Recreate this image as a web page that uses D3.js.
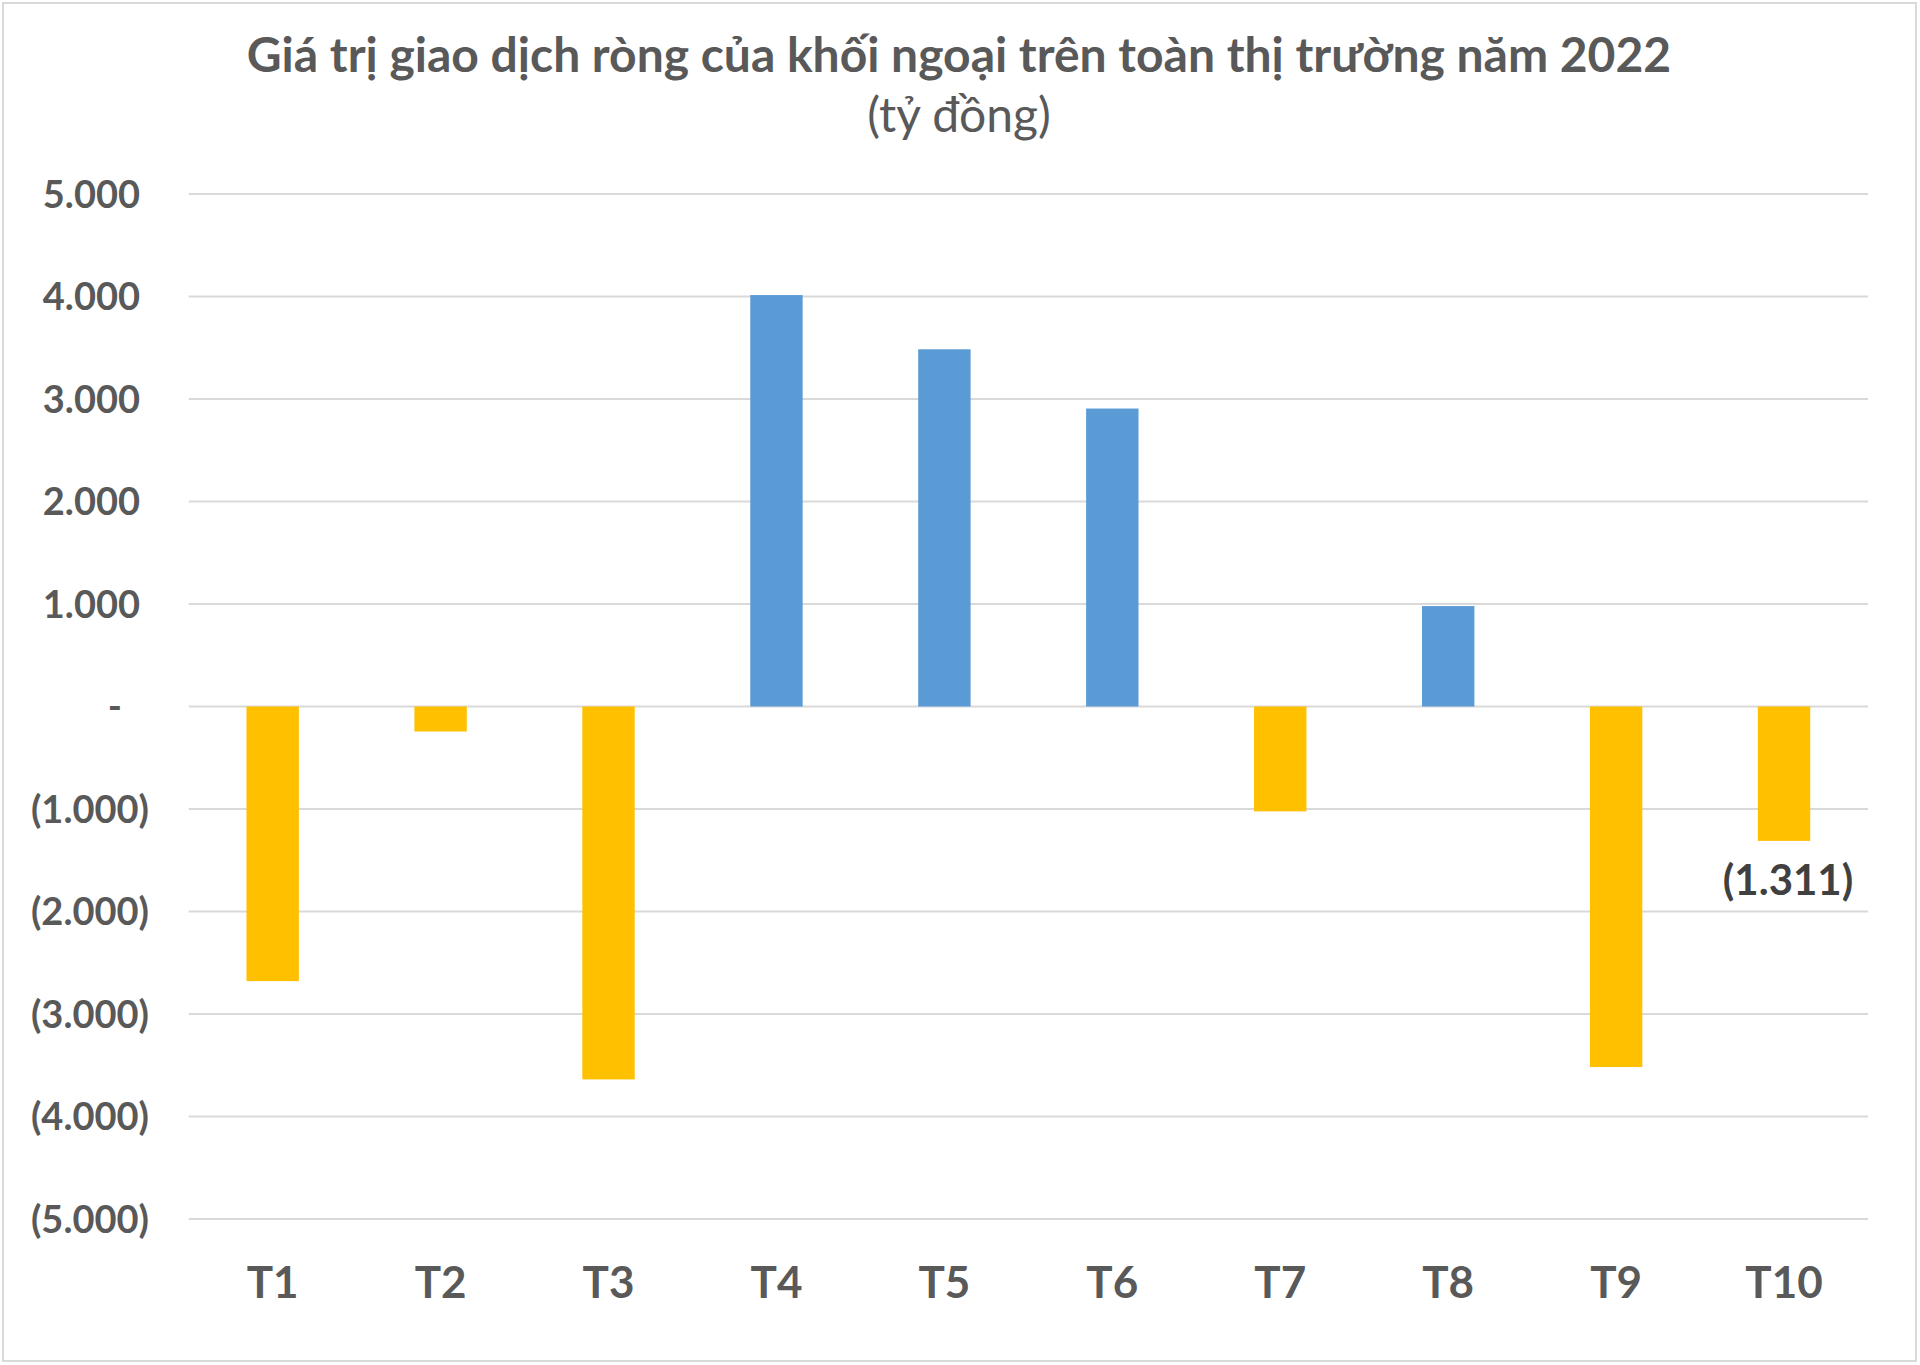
<!DOCTYPE html>
<html>
<head>
	<meta charset="utf-8" />
	<title>Giá trị giao dịch ròng của khối ngoại</title>
	<script src="https://cdn.jsdelivr.net/npm/d3@7"></script>
	<style>
		body { margin: 0; background: #fff; }
		svg text { font-family: Lato, "Open Sans", sans-serif; }
	</style>
</head>
<body>
	<div id="chart"></div>
	<script type="text/javascript">
		// so lieu (ty dong)
		var months = ["T1", "T2", "T3", "T4", "T5", "T6", "T7", "T8", "T9", "T10"];
		var netValues = [-2679, -244, -3638, 4014, 3485, 2907, -1023, 980, -3517, -1311];
		var yTicks = [5000, 4000, 3000, 2000, 1000, 0, -1000, -2000, -3000, -4000, -5000];
		var labelled = ["T10"];
		var titleText = "Giá trị giao dịch ròng của khối ngoại trên toàn thị trường năm 2022";
		var subText = "(tỷ đồng)";

		(function() {
			var width = 1920, height = 1365;
			var plotLeft = 188.7, plotRight = 1868, plotTop = 194, plotBottom = 1219;
			var textColor = "#595959";

			var vn = d3.formatLocale({ decimal: ",", thousands: ".", grouping: [3], currency: ["", ""] });
			var fmt = vn.format(",.0f");
			function acc(v) {
				if (v == 0) return "-";
				return v < 0 ? "(" + fmt(-v) + ")" : fmt(v);
			}

			var svg = d3.select("#chart").append("svg")
				.attr("width", width)
				.attr("height", height);

			svg.append("rect")
				.attr("x", 3).attr("y", 3)
				.attr("width", 1913).attr("height", 1358)
				.attr("fill", "#fff")
				.attr("stroke", "#d9d9d9")
				.attr("stroke-width", 2);

			var x = d3.scaleBand()
				.domain(months)
				.range([plotLeft, plotRight])
				.paddingInner(0.688)
				.paddingOuter(0.344);

			var y = d3.scaleLinear()
				.domain([-5000, 5000])
				.range([plotBottom, plotTop]);

			// luoi ngang
			svg.append("g").selectAll("line")
				.data(yTicks)
				.enter().append("line")
				.attr("x1", plotLeft).attr("x2", plotRight)
				.attr("y1", function(d) { return y(d); })
				.attr("y2", function(d) { return y(d); })
				.attr("stroke", "#d9d9d9")
				.attr("stroke-width", 2);

			// nhan truc y
			svg.append("g").selectAll("text")
				.data(yTicks)
				.enter().append("text")
				.attr("x", function(d) { return d < 0 ? 149 : (d == 0 ? 122 : 140); })
				.attr("y", function(d) { return y(d); })
				.attr("dy", "0.36em")
				.attr("text-anchor", "end")
				.attr("font-size", 38)
				.attr("font-weight", "bold")
				.attr("fill", textColor)
				.text(acc);

			// cot
			svg.append("g").selectAll("rect")
				.data(months)
				.enter().append("rect")
				.attr("x", function(d) { return x(d); })
				.attr("width", x.bandwidth())
				.attr("y", function(d, i) { return y(Math.max(0, netValues[i])); })
				.attr("height", function(d, i) { return Math.abs(y(netValues[i]) - y(0)); })
				.attr("fill", function(d, i) { return netValues[i] < 0 ? "#FFC000" : "#5B9BD5"; });

			// nhan truc x
			svg.append("g").selectAll("text")
				.data(months)
				.enter().append("text")
				.attr("x", function(d) { return x(d) + x.bandwidth() / 2; })
				.attr("y", 1298)
				.attr("text-anchor", "middle")
				.attr("font-size", 44)
				.attr("font-weight", "bold")
				.attr("fill", textColor)
				.text(function(d) { return d; });

			// nhan gia tri
			svg.append("g").selectAll("text")
				.data(months.filter(function(d) { return labelled.indexOf(d) >= 0; }))
				.enter().append("text")
				.attr("x", function(d) { return x(d) + x.bandwidth() / 2 + 4; })
				.attr("y", function(d) { return y(netValues[months.indexOf(d)]) + 54; })
				.attr("text-anchor", "middle")
				.attr("font-size", 42)
				.attr("font-weight", "bold")
				.attr("fill", "#404040")
				.text(function(d) { return acc(netValues[months.indexOf(d)]); });

			// tieu de
			svg.append("text")
				.attr("x", 959).attr("y", 72)
				.attr("text-anchor", "middle")
				.attr("font-size", 48)
				.attr("font-weight", "bold")
				.attr("fill", textColor)
				.text(titleText);

			svg.append("text")
				.attr("x", 959).attr("y", 132)
				.attr("text-anchor", "middle")
				.attr("font-size", 48)
				.attr("fill", textColor)
				.text(subText);
		})();
	</script>
</body>
</html>
